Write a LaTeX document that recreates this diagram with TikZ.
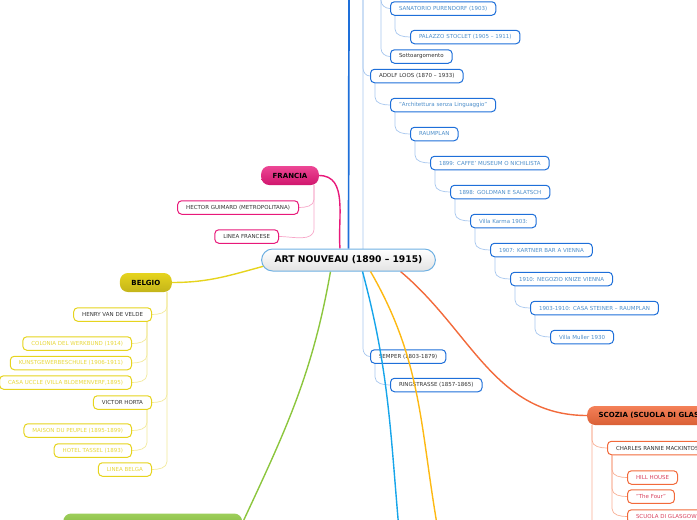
\documentclass[tikz,border=0pt]{standalone}
\usepackage{fontspec}
\setmainfont{DejaVu Sans}
\usetikzlibrary{calc}
\definecolor{bluex}{HTML}{1E6FD9}
\definecolor{bluelt}{HTML}{A6C6EE}
\definecolor{bluetx}{HTML}{4E8FCB}
\definecolor{centbd}{HTML}{6EB0E2}
\definecolor{pinkx}{HTML}{E8197A}
\definecolor{pinklt}{HTML}{F7A6C8}
\definecolor{yelbd}{HTML}{E6D41E}
\definecolor{yellt}{HTML}{F2E99A}
\definecolor{yeltx}{HTML}{E8D83A}
\definecolor{orgx}{HTML}{F26A3B}
\definecolor{orglt}{HTML}{F8AE94}
\definecolor{redtx}{HTML}{D9425E}
\definecolor{greenx}{HTML}{8CC63E}
\definecolor{cyanx}{HTML}{16A5EA}
\definecolor{goldx}{HTML}{FDB913}
\definecolor{darktx}{HTML}{333333}
\pgfdeclarelayer{back}
\pgfsetlayers{back,main}
\tikzset{
  central/.style={draw=centbd,line width=1pt,top color=white,bottom color=gray!22,rounded corners=11pt,
    minimum height=22pt,inner xsep=13pt,inner ysep=0pt,font=\bfseries\fontsize{9.2}{10}\selectfont},
  topic/.style={rounded corners=8pt,font=\bfseries\fontsize{7}{8}\selectfont,minimum height=19pt,
    inner xsep=11.5pt,inner ysep=0pt,text=black},
  leaf/.style={draw,fill=white,rounded corners=4pt,line width=1pt,font=\fontsize{5.5}{6.5}\selectfont,
    minimum height=13.5pt,inner xsep=8.5pt,inner ysep=0pt},
  bleaf/.style={leaf,draw=bluex,text=bluetx},
  bleafd/.style={leaf,draw=bluex,text=darktx},
  pleaf/.style={leaf,draw=pinkx,text=darktx},
  yleaf/.style={leaf,draw=yelbd,text=yeltx},
  yleafd/.style={leaf,draw=yelbd,text=darktx},
  oleaf/.style={leaf,draw=orgx,text=redtx},
  oleafd/.style={leaf,draw=orgx,text=darktx},
  cn/.style={line width=0.7pt},
  br/.style={line width=1.4pt}
}
% child link: down from the parent, then bend into the child
\newcommand{\kid}[3]{\draw[cn,#1] let \p1=(#2), \p2=(#3.west) in (\p1) -- (\x1,\y2+8pt) to[out=-90,in=180] (\p2);}
\newcommand{\kidl}[3]{\draw[cn,#1] let \p1=(#2), \p2=(#3.east) in (\p1) -- (\x1,\y2+8pt) to[out=-90,in=0] (\p2);}
\begin{document}
\begin{tikzpicture}[x=1pt,y=1pt]
\useasboundingbox (0,0) rectangle (697,-520);
\node[central] (art) at (348.5,-260) {ART NOUVEAU (1890 – 1915)};
% Francia
\node[topic,anchor=east,top color=pinkx!80!white,bottom color=pinkx!90!black] (francia) at (319,-175.5) {FRANCIA};
\node[pleaf,anchor=east] (guimard) at (299,-207.5) {HECTOR GUIMARD (METROPOLITANA)};
\node[pleaf,anchor=east] (linfr) at (279,-236.5) {LINEA FRANCESE};
% Belgio
\node[topic,anchor=east,top color=yelbd,bottom color=yelbd!85!black] (belgio) at (172,-282.5) {BELGIO};
\node[yleafd,anchor=east] (velde) at (152,-314.5) {HENRY VAN DE VELDE};
\node[yleaf,anchor=east] (werkbund) at (132,-343.5) {COLONIA DEL WERKBUND (1914)};
\node[yleaf,anchor=east] (kunst) at (132,-363) {KUNSTGEWERBESCHULE (1906-1911)};
\node[yleaf,anchor=east] (uccle) at (132,-382.5) {CASA UCCLE (VILLA BLOEMENVERF,1895)};
\node[yleafd,anchor=east] (horta) at (152,-402.5) {VICTOR HORTA};
\node[yleaf,anchor=east] (peuple) at (132,-430.5) {MAISON DU PEUPLE (1895-1899)};
\node[yleaf,anchor=east] (tassel) at (132,-450.5) {HOTEL TASSEL (1893)};
\node[yleaf,anchor=east] (linbe) at (152,-469.5) {LINEA BELGA};
% green topic, cut by the page
\node[topic,anchor=west,minimum width=179pt,top color=greenx!85!white,bottom color=greenx!90!black] (verde) at (63,-523) {};
% Vienna
\coordinate (vienna) at (349,0);
\coordinate (secess) at (363,0);
\coordinate (klimt) at (381,0);
\node[bleaf,anchor=west] (purk) at (390,-8.5) {SANATORIO PURENDORF (1903)};
\node[bleaf,anchor=west] (stoclet) at (410,-37) {PALAZZO STOCLET (1905 – 1911)};
\node[bleafd,anchor=west] (sotto) at (390,-56.5) {Sottoargomento};
\node[bleafd,anchor=west] (loos) at (370,-76) {ADOLF LOOS (1870 – 1933)};
\node[bleaf,anchor=west] (lingua) at (390,-105) {"Architettura senza Linguaggio"};
\node[bleaf,anchor=west] (raum) at (410,-134) {RAUMPLAN};
\node[bleaf,anchor=west] (caffe) at (430,-163) {1899: CAFFE' MUSEUM O NICHILISTA};
\node[bleaf,anchor=west] (goldman) at (450,-192) {1898: GOLDMAN E SALATSCH};
\node[bleaf,anchor=west] (karma) at (470,-221) {Villa Karma 1903:};
\node[bleaf,anchor=west] (kartner) at (490,-250) {1907: KARTNER BAR A VIENNA};
\node[bleaf,anchor=west] (knize) at (510,-279) {1910: NEGOZIO KNIZE VIENNA};
\node[bleaf,anchor=west] (steiner) at (530,-308) {1903-1910: CASA STEINER – RAUMPLAN};
\node[bleaf,anchor=west] (muller) at (550,-337) {Villa Muller 1930};
\node[bleafd,anchor=west] (semper) at (370,-356.5) {SEMPER (1803-1879)};
\node[bleafd,anchor=west] (ring) at (390,-385) {RINGSTRASSE (1857-1865)};
% Scozia
\node[topic,anchor=west,top color=orgx!85!white,bottom color=orgx!90!black] (scozia) at (587,-415.5) {SCOZIA (SCUOLA DI GLASGOW)};
\node[oleafd,anchor=west] (mack) at (607,-448) {CHARLES RANNIE MACKINTOSH};
\node[oleaf,anchor=west] (hill) at (627,-477.5) {HILL HOUSE};
\node[oleaf,anchor=west] (four) at (627,-496.5) {"The Four"};
\node[oleaf,anchor=west] (glasgow) at (627,-516.5) {SCUOLA DI GLASGOW};
\coordinate (scozmore) at (607,-560);
\coordinate (cyanend) at (399,-530);
\coordinate (goldend) at (438,-530);
\begin{pgfonlayer}{back}
\kidl{pinklt}{[xshift=-5pt]francia.south east}{guimard}
\kidl{pinklt}{[xshift=-5pt]francia.south east}{linfr}
\kidl{yellt}{[xshift=-5pt]belgio.south east}{velde}
\kidl{yellt}{[xshift=-5pt]belgio.south east}{horta}
\kidl{yellt}{[xshift=-5pt]belgio.south east}{linbe}
\kidl{yellt}{[xshift=-5pt]velde.south east}{werkbund}
\kidl{yellt}{[xshift=-5pt]velde.south east}{kunst}
\kidl{yellt}{[xshift=-5pt]velde.south east}{uccle}
\kidl{yellt}{[xshift=-5pt]horta.south east}{peuple}
\kidl{yellt}{[xshift=-5pt]horta.south east}{tassel}
\kid{bluelt}{klimt}{purk}
\kid{bluelt}{klimt}{sotto}
\kid{bluelt}{[xshift=5pt]purk.south west}{stoclet}
\kid{bluelt}{secess}{loos}
\kid{bluelt}{secess}{semper}
\kid{bluelt}{[xshift=5pt]semper.south west}{ring}
\kid{bluelt}{[xshift=5pt]loos.south west}{lingua}
\kid{bluelt}{[xshift=5pt]lingua.south west}{raum}
\kid{bluelt}{[xshift=5pt]raum.south west}{caffe}
\kid{bluelt}{[xshift=5pt]caffe.south west}{goldman}
\kid{bluelt}{[xshift=5pt]goldman.south west}{karma}
\kid{bluelt}{[xshift=5pt]karma.south west}{kartner}
\kid{bluelt}{[xshift=5pt]kartner.south west}{knize}
\kid{bluelt}{[xshift=5pt]knize.south west}{steiner}
\kid{bluelt}{[xshift=5pt]steiner.south west}{muller}
\kid{orglt}{[xshift=5pt]scozia.south west}{mack}
\kid{orglt}{[xshift=5pt]scozia.south west}{scozmore}
\kid{orglt}{[xshift=5pt]mack.south west}{hill}
\kid{orglt}{[xshift=5pt]mack.south west}{four}
\kid{orglt}{[xshift=5pt]mack.south west}{glasgow}
\draw[br,pinkx] (francia.east) to[out=0,in=95] ([xshift=-8.5pt]art.north);
\draw[br,bluex,line width=1.7pt] (art.north) -- (vienna);
\draw[br,yelbd] (belgio.east) to[out=0,in=195] ([xshift=7pt,yshift=-5pt]art.west);
\draw[br,greenx] ([xshift=-18pt]art.south) to[out=-100,in=65] (verde.east);
\draw[br,orgx] ([xshift=52pt]art.south) to[out=-40,in=180] (scozia.west);
\end{pgfonlayer}
\draw[br,cyanx] ([xshift=14pt]art.south) to[out=-75,in=95] (cyanend);
\draw[br,goldx] ([xshift=22pt]art.south) to[out=-60,in=100] (goldend);
\end{tikzpicture}
\end{document}
